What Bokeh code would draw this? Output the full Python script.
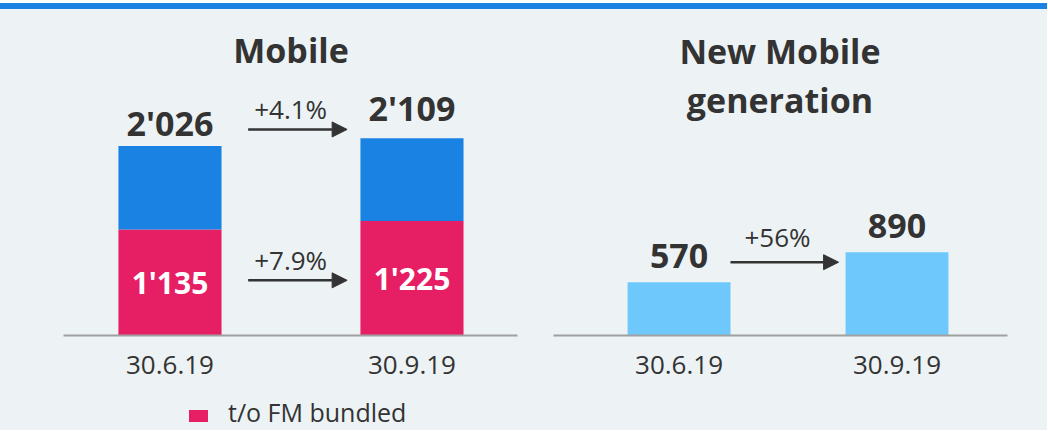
from bokeh.plotting import figure
from bokeh.models import (Range1d, FixedTicker, Label, Arrow, NormalHead,
                          Div, ColumnDataSource)
from bokeh.layouts import row, column
from bokeh.core.properties import value
from bokeh.embed import file_html
from bokeh.resources import INLINE

# ---------------- data ----------------
dates = ["30.6.19", "30.9.19"]
mobile_total = [2026, 2109]
mobile_fm_bundled = [1135, 1225]
mobile_growth = ["+4.1%", "+7.9%"]
new_gen = [570, 890]
new_gen_growth = ["+56%"]
legend_label = "t/o FM bundled"
title_left = "Mobile"
title_right = ["New Mobile", "generation"]

# ---------------- style ----------------
BG = "#edf2f5"
BLUE = "#1a82e2"
PINK = "#e61e64"
LIGHT = "#6ec8fc"
TXT = "#333333"
FONT = "Open Sans"
S = 0.0935          # px per unit
BASE = 335          # page y of the baseline
FIG_TOP = 9
FRAME_H = BASE - FIG_TOP
YMAX = FRAME_H / S
FIG_H = 421
LEG_H = 38
LEFT_LABEL_OFFSETS = [-23, -30]   # px, value labels above bars
RIGHT_LABEL_OFFSETS = [-26, -26]


def fmt(v):
    return f"{v:,}".replace(",", "'")


def ydata(page_y):
    return (BASE - page_y) / S


def base_fig(width, height, bl, br, xr):
    p = figure(width=width, height=height, output_backend="svg", toolbar_location=None,
               x_range=xr, y_range=Range1d(0, YMAX), y_axis_location=None,
               min_border_left=bl, min_border_right=br, min_border_top=0,
               min_border_bottom=height - FRAME_H)
    p.background_fill_color = None
    p.border_fill_color = BG
    p.outline_line_color = None
    p.grid.grid_line_color = None
    ax = p.xaxis[0]
    ax.ticker = FixedTicker(ticks=list(range(len(dates))))
    ax.major_label_overrides = {i: d for i, d in enumerate(dates)}
    ax.axis_line_color = "#a0a0a0"
    ax.axis_line_width = 2
    ax.major_tick_line_color = None
    ax.minor_tick_line_color = None
    ax.major_label_standoff = 14
    ax.major_label_text_font = FONT
    ax.major_label_text_font_size = "26px"
    ax.major_label_text_color = TXT
    return p


def arrow(p, x0, x1, y):
    p.add_layout(Arrow(x_start=x0, x_end=x1, y_start=y, y_end=y,
                       line_color=TXT, line_width=2.5,
                       end=NormalHead(size=15, fill_color=TXT, line_color=TXT)))


xs = list(range(len(dates)))

# ---------------- left: Mobile ----------------
W1 = 0.426
p1 = base_fig(535, FIG_H - LEG_H, 63, 18, Range1d(-0.44, 1.436))
src1 = ColumnDataSource(dict(x=xs, total=mobile_total, pink=mobile_fm_bundled,
                             half=[v / 2 for v in mobile_fm_bundled],
                             tl=[fmt(v) for v in mobile_total],
                             pl=[fmt(v) for v in mobile_fm_bundled],
                             off=LEFT_LABEL_OFFSETS))
p1.vbar(x="x", top="pink", bottom=0, width=W1, source=src1,
        fill_color=PINK, line_color=None)
p1.vbar(x="x", top="total", bottom="pink", width=W1, source=src1,
        fill_color=BLUE, line_color=None)
p1.text(x="x", y="total", text="tl", source=src1, y_offset="off",
        text_align="center", text_baseline="alphabetic",
        text_font=value(FONT), text_font_style="bold", text_font_size="34px",
        text_color=TXT)
p1.text(x="x", y="half", text="pl", source=src1,
        text_align="center", text_baseline="middle",
        text_font=value(FONT), text_font_style="bold", text_font_size="30px",
        text_color="white")
p1.add_layout(Label(x=0.5, y=ydata(49), text=title_left, text_align="center",
                    text_baseline="alphabetic", text_font=FONT, text_font_style="bold",
                    text_font_size="34px", text_color=TXT))

ax0 = xs[0] + W1 / 2 + 0.11
ax1 = xs[1] - W1 / 2 - 0.055
arrow_ys = [max(mobile_total) + 95, sum(mobile_fm_bundled) / len(mobile_fm_bundled) / 2]
for ay, g in zip(arrow_ys, mobile_growth):
    arrow(p1, ax0, ax1, ay)
    p1.add_layout(Label(x=(ax0 + ax1) / 2, y=ay, text=g, x_offset=-7, y_offset=20,
                        text_align="center", text_baseline="alphabetic",
                        text_font=FONT, text_font_size="26px", text_color=TXT))

legend_div = Div(
    text=('<span style="display:inline-block;width:19px;height:12px;'
          'background:' + PINK + ';margin-right:20px;"></span>' + legend_label),
    width=535, height=LEG_H, margin=0,
    styles={"background-color": BG, "font-family": FONT, "font-size": "25px",
            "color": TXT, "line-height": "35px", "padding-left": "189px",
            "padding-top": "3px", "box-sizing": "border-box",
            "white-space": "nowrap"})

# ---------------- right: New Mobile generation ----------------
W2 = 0.472
p2 = base_fig(512, FIG_H, 18, 40, Range1d(-0.576, 1.507))
src2 = ColumnDataSource(dict(x=xs, v=new_gen, lab=[fmt(v) for v in new_gen],
                             off=RIGHT_LABEL_OFFSETS))
p2.vbar(x="x", top="v", bottom=0, width=W2, source=src2,
        fill_color=LIGHT, line_color=None)
p2.text(x="x", y="v", text="lab", source=src2, y_offset="off",
        text_align="center", text_baseline="alphabetic",
        text_font=value(FONT), text_font_style="bold", text_font_size="34px",
        text_color=TXT)
for line, yb in zip(title_right, [50, 99]):
    p2.add_layout(Label(x=0.463, y=ydata(yb), text=line, text_align="center",
                        text_baseline="alphabetic", text_font=FONT,
                        text_font_style="bold", text_font_size="34px", text_color=TXT))
bx0 = xs[0] + W2 / 2
bx1 = xs[1] - W2 / 2 - 0.032
by = new_gen[0] + 214
arrow(p2, bx0, bx1, by)
p2.add_layout(Label(x=(bx0 + bx1) / 2, y=by, text=new_gen_growth[0], x_offset=-7,
                    y_offset=25, text_align="center", text_baseline="alphabetic",
                    text_font=FONT, text_font_size="26px", text_color=TXT))

top_line = Div(text="", width=1047, height=9, margin=0,
               styles={"background": "linear-gradient(to bottom, #ffffff 0px, #ffffff 3px, "
                                     + BLUE + " 3px, " + BLUE + " 9px)"})
layout = column(top_line, row(column(p1, legend_div), p2,
                              styles={"background-color": BG}))

open("out.html", "w").write(file_html(layout, INLINE))
